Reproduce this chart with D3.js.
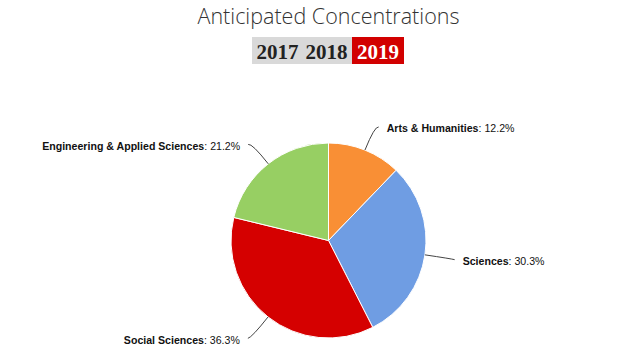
<!DOCTYPE html>
<html><head><meta charset="utf-8">
<script src="https://cdn.jsdelivr.net/npm/d3@7/dist/d3.min.js"></script>
<style>body{margin:0;background:#fff;}svg{display:block;}</style>
</head><body>
<svg id="c" width="642" height="364"></svg>
<script>
const categories = ["Arts & Humanities", "Sciences", "Social Sciences", "Engineering & Applied Sciences"];
const values = [12.2, 30.3, 36.3, 21.2];
const colors = ["#f98f35", "#6f9de3", "#d50000", "#97cf63"];
const years = ["2017", "2018", "2019"];
const activeYear = "2019";
const title = "Anticipated Concentrations";

const svg = d3.select("#c");

svg.append("text").attr("x", 328.5).attr("y", 24).attr("text-anchor", "middle")
  .attr("font-family", "'Open Sans', sans-serif").attr("font-weight", 300)
  .attr("font-size", 21.5).attr("fill", "#333").text(title);

// year tabs
const tabs = svg.append("g");
tabs.append("rect").attr("x", 252).attr("y", 37).attr("width", 101).attr("height", 27).attr("fill", "#d9d9d9");
tabs.append("rect").attr("x", 352).attr("y", 37).attr("width", 52).attr("height", 27).attr("fill", "#d20000");
const tabCenters = {"2017": 277.5, "2018": 326.5, "2019": 378};
tabs.selectAll("text").data(years).join("text")
  .attr("x", d => tabCenters[d]).attr("y", 59).attr("text-anchor", "middle")
  .attr("font-family", "'Liberation Serif', 'DejaVu Serif', serif").attr("font-weight", "bold")
  .attr("font-size", 21).attr("fill", d => d === activeYear ? "#fff" : "#222").text(d => d);

// pie
const cx = 328.5, cy = 240.5, R = 97.5;
const pie = d3.pie().sort(null).value(d => d.v);
const data = pie(categories.map((c, i) => ({c, v: values[i], col: colors[i]})));
const arc = d3.arc().innerRadius(0).outerRadius(R);
const g = svg.append("g").attr("transform", `translate(${cx},${cy})`);
g.selectAll("path.s").data(data).join("path").attr("class", "s")
  .attr("d", arc).attr("fill", d => d.data.col).attr("stroke", "#fff").attr("stroke-width", 1).attr("stroke-linejoin", "round");

// labels
const labels = svg.append("g");
data.forEach(d => {
  const a = (d.startAngle + d.endAngle) / 2;
  const sx = Math.sin(a), sy = -Math.cos(a);
  const p0 = [cx + sx * R, cy + sy * R];
  const p1 = [cx + sx * (R + 26), cy + sy * (R + 26)];
  const right = sx >= 0;
  const p2 = [p1[0] + (right ? 4 : -4), p1[1] + 1];
  labels.append("path")
    .attr("d", `M${p0[0]},${p0[1]} Q${p1[0]},${p1[1]} ${p2[0]},${p2[1]}`)
    .attr("fill", "none").attr("stroke", "#444").attr("stroke-width", 1);
  const t = labels.append("text")
    .attr("x", p2[0] + (right ? 8 : -8)).attr("y", p1[1] + 6.5)
    .attr("text-anchor", right ? "start" : "end")
    .attr("font-family", "'Liberation Sans', Arial, sans-serif").attr("font-size", 10.6).attr("fill", "#111");
  t.append("tspan").attr("font-weight", "bold").text(d.data.c);
  t.append("tspan").text(": " + d.data.v.toFixed(1) + "%");
});
</script>
</body></html>
